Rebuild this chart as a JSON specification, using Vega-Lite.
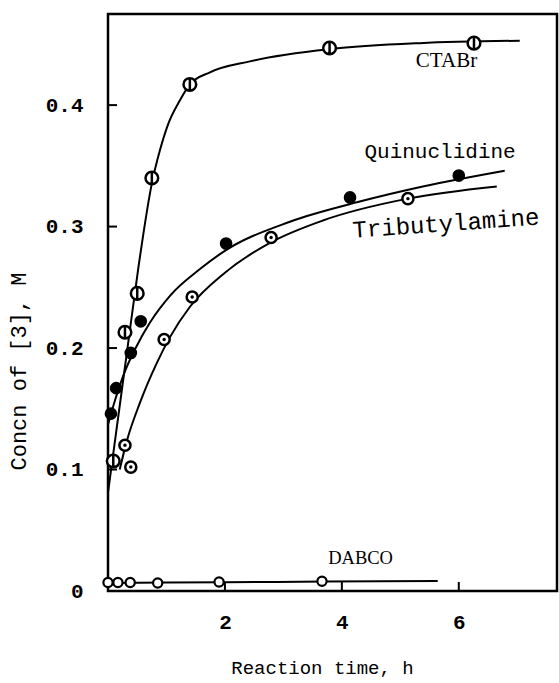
{
  "$schema": "https://vega.github.io/schema/vega-lite/v6.json",
  "width": 449,
  "height": 577,
  "autosize": "none",
  "padding": {"left": 108, "top": 14, "right": 2, "bottom": 92},
  "background": "white",
  "config": {
    "view": {"stroke": "black", "strokeWidth": 2.5},
    "axis": {"grid": false, "domain": false, "ticks": false}
  },
  "datasets": {
    "curves": [
      {"series": "CTABr", "t": 0.0, "c": 0.081},
      {"series": "CTABr", "t": 0.171, "c": 0.142},
      {"series": "CTABr", "t": 0.342, "c": 0.203},
      {"series": "CTABr", "t": 0.513, "c": 0.264},
      {"series": "CTABr", "t": 0.752, "c": 0.336},
      {"series": "CTABr", "t": 0.889, "c": 0.363},
      {"series": "CTABr", "t": 1.026, "c": 0.384},
      {"series": "CTABr", "t": 1.231, "c": 0.404},
      {"series": "CTABr", "t": 1.402, "c": 0.417},
      {"series": "CTABr", "t": 1.744, "c": 0.427},
      {"series": "CTABr", "t": 2.427, "c": 0.436},
      {"series": "CTABr", "t": 3.795, "c": 0.446},
      {"series": "CTABr", "t": 5.333, "c": 0.451},
      {"series": "CTABr", "t": 7.043, "c": 0.453},
      {"series": "Quinuclidine", "t": 0.0, "c": 0.137},
      {"series": "Quinuclidine", "t": 0.12, "c": 0.157},
      {"series": "Quinuclidine", "t": 0.291, "c": 0.181},
      {"series": "Quinuclidine", "t": 0.462, "c": 0.199},
      {"series": "Quinuclidine", "t": 0.718, "c": 0.221},
      {"series": "Quinuclidine", "t": 1.06, "c": 0.243},
      {"series": "Quinuclidine", "t": 1.573, "c": 0.265},
      {"series": "Quinuclidine", "t": 1.966, "c": 0.279},
      {"series": "Quinuclidine", "t": 3.111, "c": 0.304},
      {"series": "Quinuclidine", "t": 4.256, "c": 0.32},
      {"series": "Quinuclidine", "t": 5.385, "c": 0.333},
      {"series": "Quinuclidine", "t": 6.786, "c": 0.346},
      {"series": "Tributylamine", "t": 0.2, "c": 0.1},
      {"series": "Tributylamine", "t": 0.325, "c": 0.124},
      {"series": "Tributylamine", "t": 0.547, "c": 0.155},
      {"series": "Tributylamine", "t": 0.838, "c": 0.188},
      {"series": "Tributylamine", "t": 1.06, "c": 0.209},
      {"series": "Tributylamine", "t": 1.402, "c": 0.234},
      {"series": "Tributylamine", "t": 2.0, "c": 0.262},
      {"series": "Tributylamine", "t": 2.786, "c": 0.287},
      {"series": "Tributylamine", "t": 3.675, "c": 0.305},
      {"series": "Tributylamine", "t": 5.128, "c": 0.323},
      {"series": "Tributylamine", "t": 6.65, "c": 0.333},
      {"series": "DABCO", "t": 0.0, "c": 0.0066},
      {"series": "DABCO", "t": 1.0, "c": 0.007},
      {"series": "DABCO", "t": 2.0, "c": 0.0072},
      {"series": "DABCO", "t": 3.7, "c": 0.0078},
      {"series": "DABCO", "t": 5.64, "c": 0.0082}
    ],
    "points": [
      {"series": "CTABr", "t": 0.09, "c": 0.107},
      {"series": "CTABr", "t": 0.29, "c": 0.213},
      {"series": "CTABr", "t": 0.5, "c": 0.245},
      {"series": "CTABr", "t": 0.75, "c": 0.34},
      {"series": "CTABr", "t": 1.4, "c": 0.417},
      {"series": "CTABr", "t": 3.79, "c": 0.447},
      {"series": "CTABr", "t": 6.26, "c": 0.451},
      {"series": "Quinuclidine", "t": 0.05, "c": 0.146},
      {"series": "Quinuclidine", "t": 0.14, "c": 0.167},
      {"series": "Quinuclidine", "t": 0.39, "c": 0.196},
      {"series": "Quinuclidine", "t": 0.56, "c": 0.222},
      {"series": "Quinuclidine", "t": 2.02, "c": 0.286},
      {"series": "Quinuclidine", "t": 4.14, "c": 0.324},
      {"series": "Quinuclidine", "t": 6.0, "c": 0.342},
      {"series": "Tributylamine", "t": 0.29, "c": 0.12},
      {"series": "Tributylamine", "t": 0.39, "c": 0.102},
      {"series": "Tributylamine", "t": 0.96, "c": 0.207},
      {"series": "Tributylamine", "t": 1.44, "c": 0.242},
      {"series": "Tributylamine", "t": 2.79, "c": 0.291},
      {"series": "Tributylamine", "t": 5.13, "c": 0.323},
      {"series": "DABCO", "t": 0.0, "c": 0.007},
      {"series": "DABCO", "t": 0.17, "c": 0.007},
      {"series": "DABCO", "t": 0.38, "c": 0.007},
      {"series": "DABCO", "t": 0.85, "c": 0.0066},
      {"series": "DABCO", "t": 1.9, "c": 0.0074},
      {"series": "DABCO", "t": 3.66, "c": 0.008}
    ],
    "labels": [
      {"series": "CTABr", "t": 5.79, "c": 0.436, "font": "serif1"},
      {"series": "Quinuclidine", "t": 5.68, "c": 0.361, "font": "mono"},
      {"series": "Tributylamine", "t": 5.78, "c": 0.302, "font": "mono2"},
      {"series": "DABCO", "t": 4.32, "c": 0.027, "font": "serif2"}
    ],
    "xticks": [{"t": 2, "c": 0}, {"t": 4, "c": 0}, {"t": 6, "c": 0}],
    "yticks": [{"t": 0, "c": 0.1}, {"t": 0, "c": 0.2}, {"t": 0, "c": 0.3}, {"t": 0, "c": 0.4}]
  },
  "encoding": {
    "x": {
      "field": "t", "type": "quantitative",
      "scale": {"domain": [0, 7.68], "nice": false, "zero": false},
      "axis": {
        "values": [2, 4, 6],
        "title": "Reaction time, h",
        "titleFont": "Liberation Mono",
        "titleFontSize": 19,
        "titleFontWeight": "normal",
        "titlePadding": 26,
        "titleX": 214,
        "titleAlign": "center",
        "labelFont": "Liberation Mono",
        "labelFontSize": 21,
        "labelFontWeight": "bold",
        "labelPadding": 20,
        "labelColor": "black",
        "titleColor": "black"
      }
    },
    "y": {
      "field": "c", "type": "quantitative",
      "scale": {"domain": [0, 0.475], "nice": false, "zero": false},
      "axis": {
        "values": [0, 0.1, 0.2, 0.3, 0.4],
        "labelExpr": "datum.value == 0 ? '0' : format(datum.value, '.1f')",
        "title": "Concn of [3], M",
        "titleFont": "Liberation Mono",
        "titleFontSize": 22,
        "titleFontWeight": "normal",
        "titleX": -90,
        "titleY": 357,
        "titleAngle": -90,
        "titleBaseline": "middle",
        "titleAlign": "center",
        "labelFont": "Liberation Mono",
        "labelFontSize": 21,
        "labelFontWeight": "bold",
        "labelPadding": 25,
        "labelColor": "black",
        "titleColor": "black"
      }
    }
  },
  "layer": [
    {
      "data": {"name": "xticks"},
      "mark": {"type": "tick", "orient": "vertical", "size": 18, "thickness": 2, "color": "black", "opacity": 1, "clip": true}
    },
    {
      "data": {"name": "yticks"},
      "mark": {"type": "tick", "orient": "horizontal", "size": 18, "thickness": 2, "color": "black", "opacity": 1, "clip": true}
    },
    {
      "data": {"name": "curves"},
      "mark": {"type": "line", "interpolate": "monotone", "color": "black", "strokeWidth": 2, "clip": true},
      "encoding": {"detail": {"field": "series"}}
    },
    {
      "data": {"name": "points"},
      "transform": [{"filter": "datum.series == 'CTABr'"}],
      "mark": {"type": "point", "shape": "M-1,0A1,1,0,1,1,1,0A1,1,0,1,1,-1,0ZM0,-1L0,1", "filled": false, "fill": "white", "fillOpacity": 1, "stroke": "black", "strokeWidth": 2.5, "size": 160, "opacity": 1}
    },
    {
      "data": {"name": "points"},
      "transform": [{"filter": "datum.series == 'Quinuclidine'"}],
      "mark": {"type": "circle", "color": "black", "size": 160, "opacity": 1}
    },
    {
      "data": {"name": "points"},
      "transform": [{"filter": "datum.series == 'Tributylamine'"}],
      "mark": {"type": "point", "shape": "circle", "filled": false, "fill": "white", "fillOpacity": 1, "stroke": "black", "strokeWidth": 2.5, "size": 123, "opacity": 1}
    },
    {
      "data": {"name": "points"},
      "transform": [{"filter": "datum.series == 'Tributylamine'"}],
      "mark": {"type": "circle", "color": "black", "size": 12, "opacity": 1}
    },
    {
      "data": {"name": "points"},
      "transform": [{"filter": "datum.series == 'DABCO'"}],
      "mark": {"type": "point", "shape": "circle", "filled": false, "fill": "white", "fillOpacity": 1, "stroke": "black", "strokeWidth": 2.2, "size": 85, "opacity": 1}
    },
    {
      "data": {"name": "labels"},
      "transform": [{"filter": "datum.font == 'serif1'"}],
      "mark": {"type": "text", "font": "Liberation Serif", "fontSize": 21, "color": "black", "align": "center", "baseline": "middle"},
      "encoding": {"text": {"field": "series"}}
    },
    {
      "data": {"name": "labels"},
      "transform": [{"filter": "datum.font == 'serif2'"}],
      "mark": {"type": "text", "font": "Liberation Serif", "fontSize": 18.5, "color": "black", "align": "center", "baseline": "middle"},
      "encoding": {"text": {"field": "series"}}
    },
    {
      "data": {"name": "labels"},
      "transform": [{"filter": "datum.font == 'mono'"}],
      "mark": {"type": "text", "font": "Liberation Mono", "fontSize": 21, "color": "black", "align": "center", "baseline": "middle"},
      "encoding": {"text": {"field": "series"}}
    },
    {
      "data": {"name": "labels"},
      "transform": [{"filter": "datum.font == 'mono2'"}],
      "mark": {"type": "text", "font": "Liberation Mono", "fontSize": 24, "color": "black", "align": "center", "baseline": "middle", "angle": -4},
      "encoding": {"text": {"field": "series"}}
    }
  ]
}
